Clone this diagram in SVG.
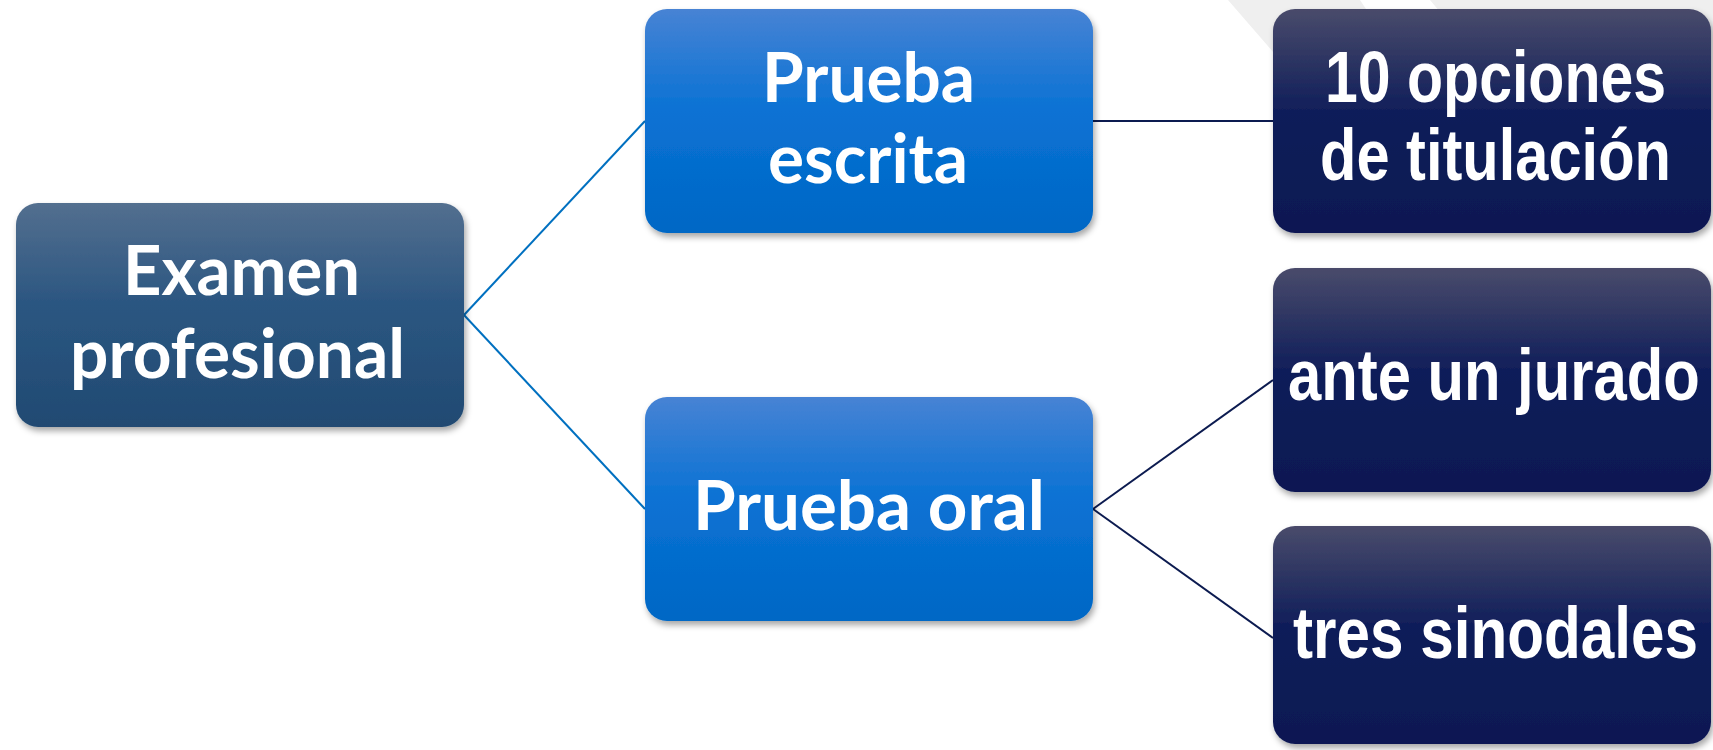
<svg xmlns="http://www.w3.org/2000/svg" width="1713" height="750" viewBox="0 0 1713 750">
<defs>
<linearGradient id="gSteel" x1="0" y1="0" x2="0" y2="1">
<stop offset="0" stop-color="#536F8F"/>
<stop offset="0.45" stop-color="#2B5681"/>
<stop offset="1" stop-color="#214A72"/>
</linearGradient>
<linearGradient id="gBlue" x1="0" y1="0" x2="0" y2="1">
<stop offset="0" stop-color="#4783D4"/>
<stop offset="0.45" stop-color="#0A72D4"/>
<stop offset="1" stop-color="#0067C5"/>
</linearGradient>
<linearGradient id="gNavy" x1="0" y1="0" x2="0" y2="1">
<stop offset="0" stop-color="#494B6B"/>
<stop offset="0.45" stop-color="#111F5A"/>
<stop offset="1" stop-color="#0A1852"/>
</linearGradient>
<filter id="shadow" x="-10%" y="-10%" width="125%" height="130%">
<feDropShadow dx="2" dy="4" stdDeviation="3" flood-color="#000" flood-opacity="0.35"/>
</filter>
</defs>
<style>
.box{filter:url(#shadow);}
.steel{fill:url(#gSteel);}
.blue{fill:url(#gBlue);}
.navy{fill:url(#gNavy);}
.t1{font-family:Lato,"Open Sans","Noto Sans",sans-serif;font-weight:bold;font-size:68px;fill:#FFFFFF;}
.t2{font-family:"Liberation Sans",Arial,sans-serif;font-weight:bold;font-size:73px;fill:#FFFFFF;}
.cb{stroke:#0070C0;stroke-width:2;fill:none;}
.cn{stroke:#0C1B50;stroke-width:2;fill:none;}
</style>
<rect width="1713" height="750" fill="#FFFFFF"/>
<polygon points="1228,0 1360,0 1440,120 1300,120 1273,52" fill="#EFEFEF"/>
<polygon points="1430,0 1713,0 1713,120 1530,120" fill="#EFEFEF"/>
<g id="connectors">
<line class="cb" x1="464" y1="315" x2="645" y2="121"/>
<line class="cb" x1="464" y1="315" x2="645" y2="509"/>
<line class="cn" x1="1093" y1="121" x2="1273" y2="121"/>
<line class="cn" x1="1093" y1="509" x2="1273" y2="380"/>
<line class="cn" x1="1093" y1="509" x2="1273" y2="638"/>
</g>
<g id="examen">
<rect class="box steel" x="16" y="203" width="448" height="224" rx="22"/>
<text class="t1" x="123" y="295" textLength="237" lengthAdjust="spacingAndGlyphs">Examen</text>
<text class="t1" x="70" y="378" textLength="335" lengthAdjust="spacingAndGlyphs">profesional</text>
</g>
<g id="prueba-escrita">
<rect class="box blue" x="645" y="9" width="448" height="224" rx="22"/>
<text class="t1" x="762" y="102" textLength="213" lengthAdjust="spacingAndGlyphs">Prueba</text>
<text class="t1" x="768" y="183" textLength="200" lengthAdjust="spacingAndGlyphs">escrita</text>
</g>
<g id="prueba-oral">
<rect class="box blue" x="645" y="397" width="448" height="224" rx="22"/>
<text class="t1" x="693" y="530" textLength="352" lengthAdjust="spacingAndGlyphs">Prueba oral</text>
</g>
<g id="opciones">
<rect class="box navy" x="1273" y="9" width="438" height="224" rx="22"/>
<text class="t2" transform="translate(1325,102) scale(0.82,1)" x="0" y="0" textLength="416" lengthAdjust="spacingAndGlyphs">10 opciones</text>
<text class="t2" transform="translate(1320,180) scale(0.82,1)" x="0" y="0" textLength="428" lengthAdjust="spacingAndGlyphs">de titulación</text>
</g>
<g id="jurado">
<rect class="box navy" x="1273" y="268" width="438" height="224" rx="22"/>
<text class="t2" transform="translate(1288,400) scale(0.82,1)" x="0" y="0" textLength="502" lengthAdjust="spacingAndGlyphs">ante un jurado</text>
</g>
<g id="sinodales">
<rect class="box navy" x="1273" y="526" width="438" height="218" rx="22"/>
<text class="t2" transform="translate(1293,658) scale(0.82,1)" x="0" y="0" textLength="494" lengthAdjust="spacingAndGlyphs">tres sinodales</text>
</g>
</svg>
